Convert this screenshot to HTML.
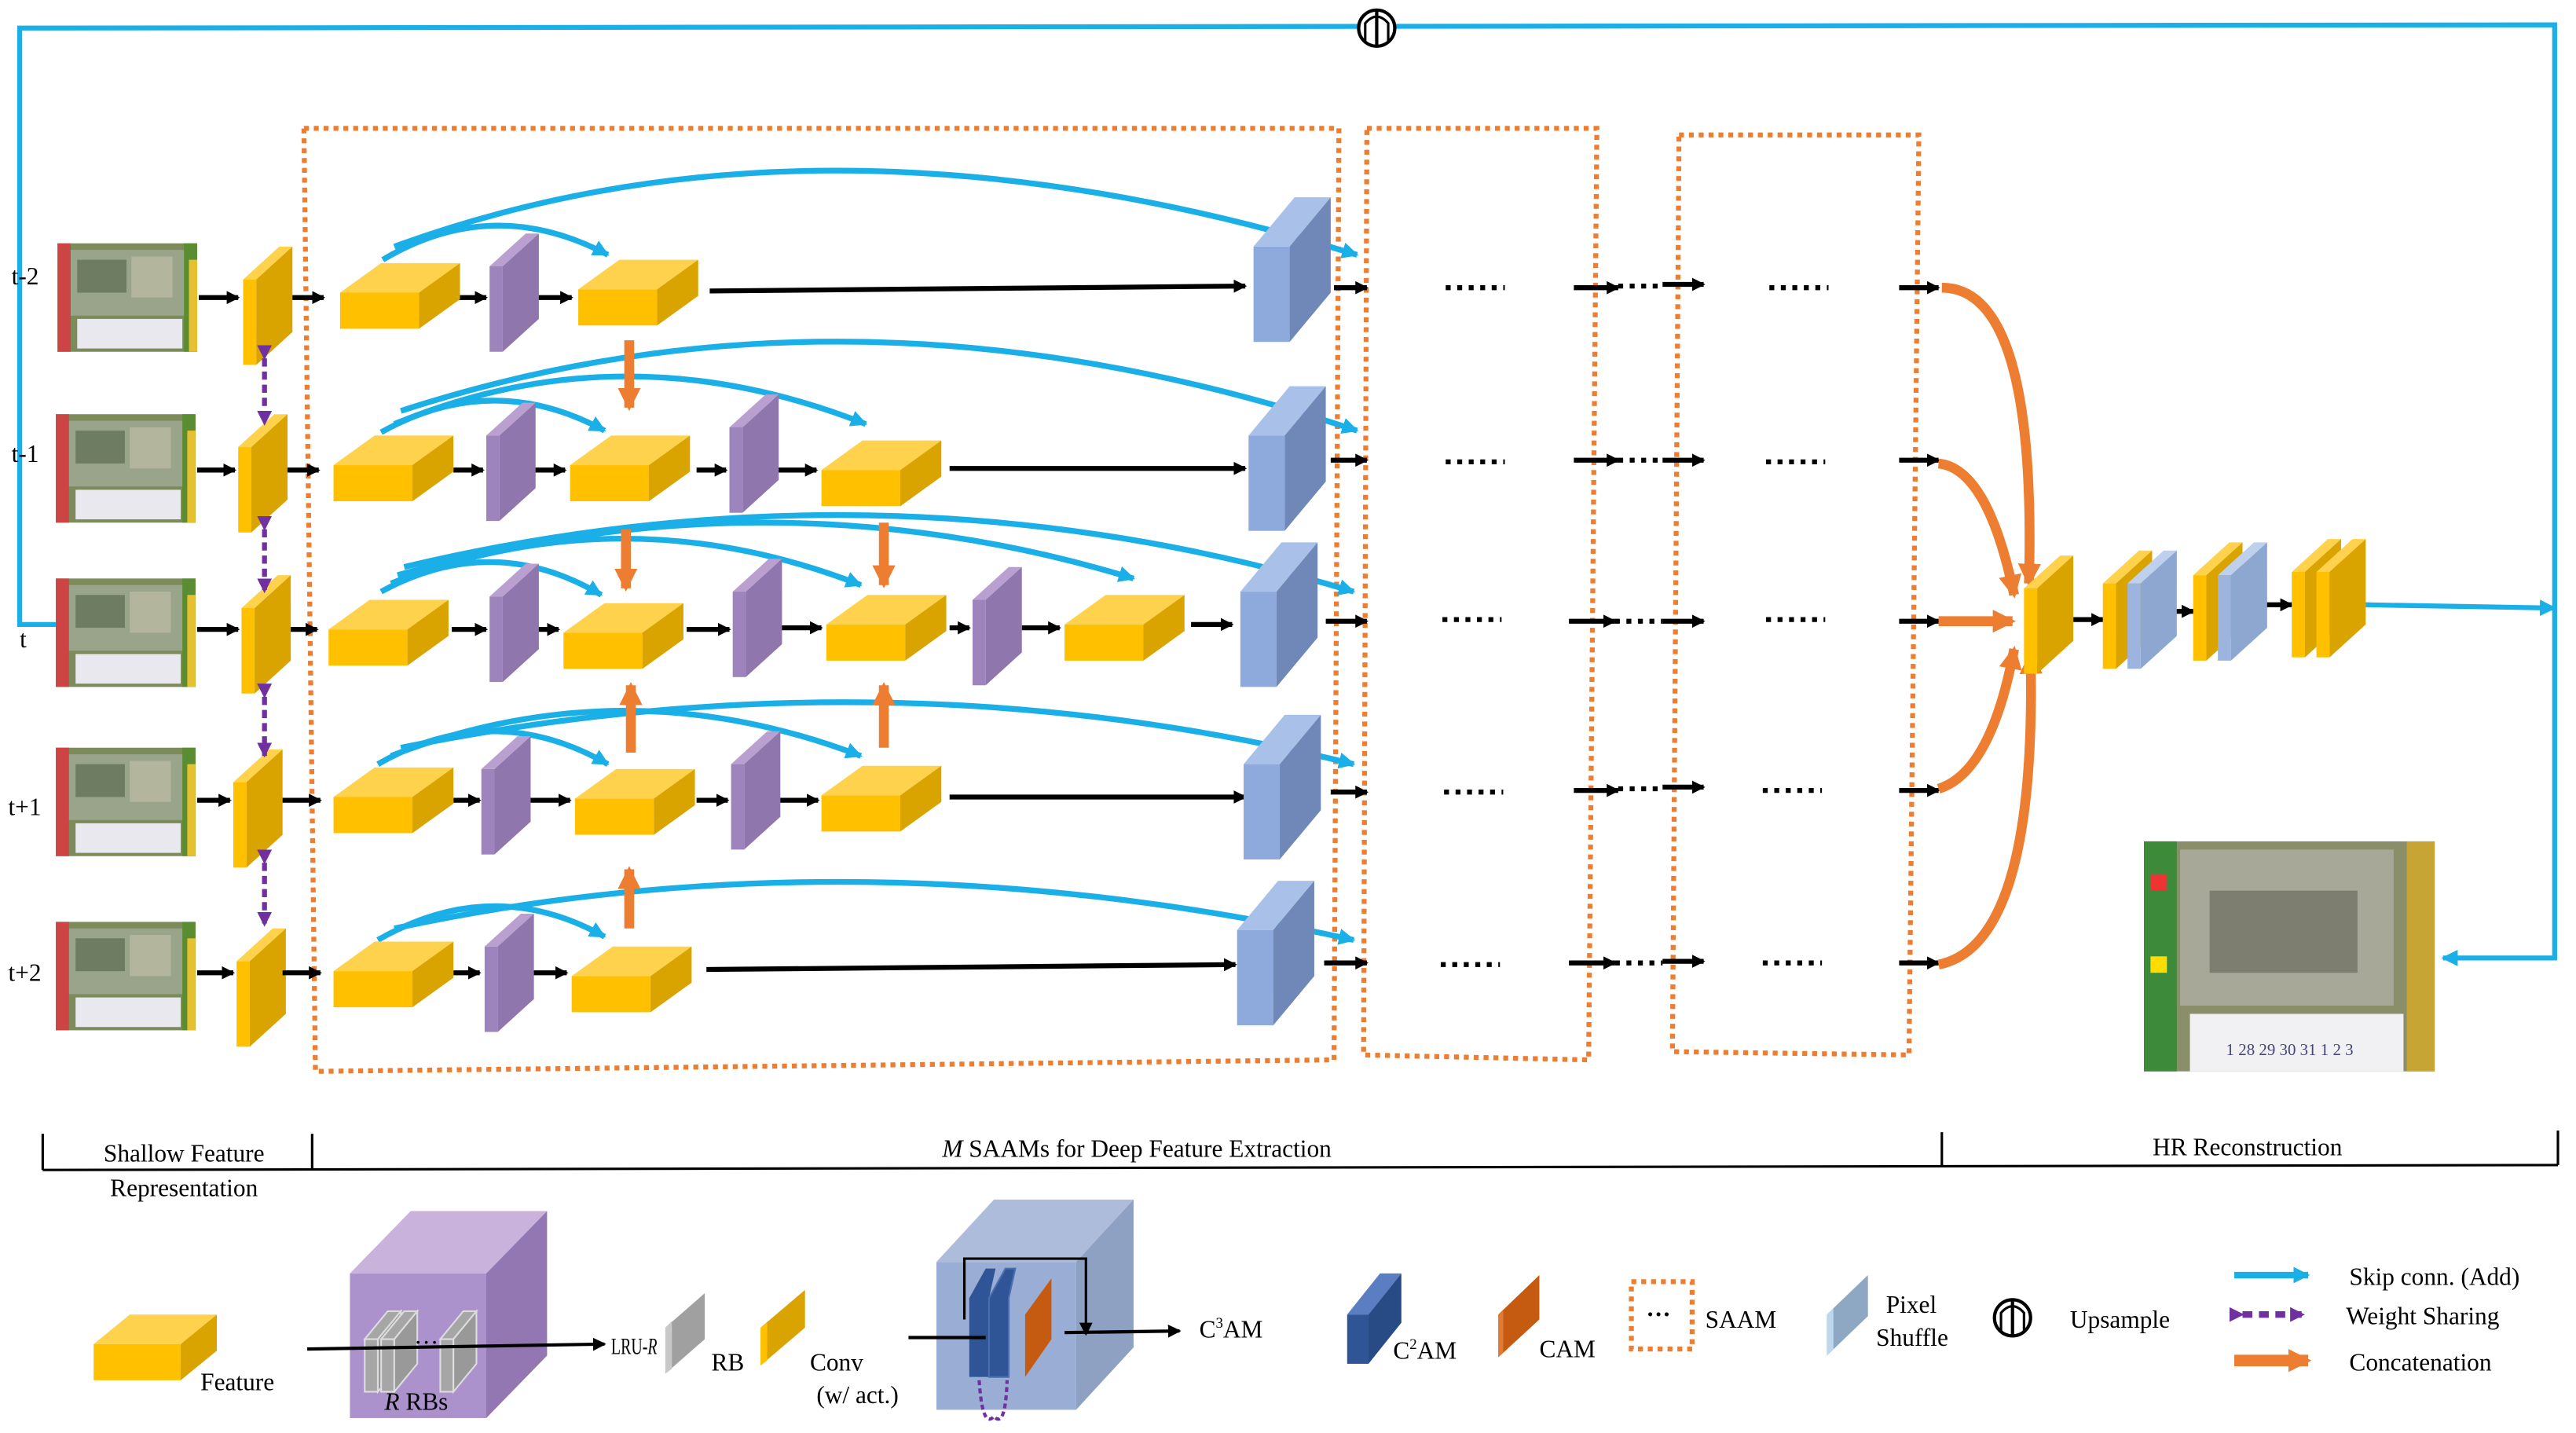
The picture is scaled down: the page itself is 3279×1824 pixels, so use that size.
<!DOCTYPE html>
<html><head><meta charset="utf-8"><style>
html,body{margin:0;padding:0;background:#fff;width:3279px;height:1824px;overflow:hidden}
svg{display:block}
text{font-family:"Liberation Serif",serif;font-size:15px;fill:#000}
</style></head><body>
<svg width="3279" height="1824" viewBox="0 0 1568 872" xmlns="http://www.w3.org/2000/svg">
<defs>
<marker id="ak" markerWidth="8" markerHeight="8" refX="7" refY="4" orient="auto" markerUnits="userSpaceOnUse"><path d="M0,0 L8,4 L0,8 z" fill="#000"/></marker>
<marker id="ab" markerWidth="10" markerHeight="10" refX="9" refY="5" orient="auto" markerUnits="userSpaceOnUse"><path d="M0,0 L10,5 L0,10 z" fill="#1AAFE6"/></marker>
<marker id="ao" markerWidth="14" markerHeight="14" refX="12" refY="7" orient="auto" markerUnits="userSpaceOnUse"><path d="M0,0 L14,7 L0,14 z" fill="#ED7D31"/></marker>
<marker id="ap" markerWidth="9" markerHeight="9" refX="8" refY="4.5" orient="auto" markerUnits="userSpaceOnUse"><path d="M0,0 L9,4.5 L0,9 z" fill="#7030A0"/></marker>
<g id="feat"><polygon points="0,18 25,0 73,0 48,18" fill="#FFD24D"/><rect x="0" y="18" width="48" height="22" fill="#FFC000"/><polygon points="48,18 73,0 73,22 48,40" fill="#D9A300"/></g>
<g id="pur"><polygon points="0,20 22,0 30,0 8,20" fill="#B9A0D0"/><rect x="0" y="20" width="8" height="52" fill="#9E84BC"/><polygon points="8,20 30,0 30,52 8,72" fill="#8F76AD"/></g>
<g id="ycv"><polygon points="0,20 22,0 30,0 8,20" fill="#FFD24D"/><rect x="0" y="20" width="8" height="52" fill="#FFC000"/><polygon points="8,20 30,0 30,52 8,72" fill="#D9A300"/></g>
<g id="blu"><polygon points="0,30 25,0 47,0 22,30" fill="#A9C0E8"/><rect x="0" y="30" width="22" height="58" fill="#8EAADC"/><polygon points="22,30 47,0 47,58 22,88" fill="#6F88B8"/></g>
<g id="frm"><rect x="0" y="0" width="85" height="66" fill="#7d8a5a"/><rect x="6" y="4" width="72" height="40" fill="#9aa48a"/><rect x="12" y="10" width="30" height="20" fill="#6e7c62"/><rect x="45" y="8" width="25" height="25" fill="#b3b59c"/><rect x="0" y="0" width="8" height="66" fill="#c44"/><rect x="77" y="0" width="8" height="66" fill="#5a8d32"/><rect x="12" y="46" width="64" height="18" fill="#e8e8ee"/><rect x="80" y="10" width="5" height="56" fill="#e6c030"/></g>
</defs>

<polyline points="35,380 12,380 12,17 1555,15 1555,583 1487,583" fill="none" stroke="#1AAFE6" stroke-width="3" marker-end="url(#ab)"/>
<circle cx="838" cy="17" r="11" fill="#fff" stroke="#000" stroke-width="2"/>
<line x1="838" y1="6" x2="838" y2="28" stroke="#000" stroke-width="2"/>
<path d="M831,26 L831,14 Q838,6 845,14 L845,26" fill="none" stroke="#000" stroke-width="1.5"/>

<g fill="none" stroke="#ED7D31" stroke-width="3" stroke-dasharray="3,3">
<polygon points="185,78 815,78 812,645 192,652"/>
<polygon points="832,78 972,78 967,645 830,642"/>
<polygon points="1022,82 1168,82 1162,642 1018,640"/>
</g>

<text x="7" y="173">t-2</text><text x="7" y="281">t-1</text><text x="12" y="394">t</text><text x="5" y="496">t+1</text><text x="5" y="597">t+2</text>

<use href="#frm" x="35" y="148"/><use href="#frm" x="34" y="252"/><use href="#frm" x="34" y="352"/><use href="#frm" x="34" y="455"/><use href="#frm" x="34" y="561"/>

<use href="#ycv" x="148" y="150"/><use href="#ycv" x="145" y="252"/><use href="#ycv" x="147" y="350"/><use href="#ycv" x="142" y="456"/><use href="#ycv" x="144" y="565"/>
<g stroke="#7030A0" stroke-width="3" stroke-dasharray="5,3" marker-end="url(#ap)" marker-start="url(#ap)">
<line x1="161" y1="218" x2="161" y2="258"/><line x1="161" y1="322" x2="161" y2="360"/><line x1="161" y1="424" x2="161" y2="460"/><line x1="161" y1="525" x2="161" y2="563"/>
</g>

<g stroke="#000" stroke-width="3" marker-end="url(#ak)">
<line x1="121" y1="181" x2="145" y2="181"/><line x1="178" y1="181" x2="197" y2="181"/><line x1="278" y1="181" x2="296" y2="181"/><line x1="326" y1="181" x2="348" y2="181"/><line x1="432" y1="177" x2="758" y2="174"/><line x1="812" y1="175" x2="832" y2="175"/>
<line x1="120" y1="286" x2="143" y2="286"/><line x1="175" y1="286" x2="194" y2="286"/><line x1="276" y1="286" x2="294" y2="286"/><line x1="324" y1="286" x2="344" y2="286"/><line x1="424" y1="286" x2="442" y2="286"/><line x1="472" y1="286" x2="497" y2="286"/><line x1="578" y1="285" x2="758" y2="285"/><line x1="810" y1="280" x2="832" y2="280"/>
<line x1="120" y1="383" x2="145" y2="383"/><line x1="177" y1="383" x2="193" y2="383"/><line x1="275" y1="383" x2="296" y2="383"/><line x1="326" y1="383" x2="340" y2="383"/><line x1="418" y1="383" x2="444" y2="383"/><line x1="474" y1="382" x2="500" y2="382"/><line x1="578" y1="382" x2="590" y2="382"/><line x1="622" y1="382" x2="645" y2="382"/><line x1="725" y1="380" x2="750" y2="380"/><line x1="807" y1="378" x2="832" y2="378"/>
<line x1="120" y1="487" x2="140" y2="487"/><line x1="172" y1="487" x2="195" y2="487"/><line x1="276" y1="487" x2="292" y2="487"/><line x1="322" y1="487" x2="347" y2="487"/><line x1="424" y1="487" x2="443" y2="487"/><line x1="474" y1="487" x2="498" y2="487"/><line x1="578" y1="485" x2="758" y2="485"/><line x1="810" y1="482" x2="832" y2="482"/>
<line x1="120" y1="592" x2="142" y2="592"/><line x1="172" y1="592" x2="195" y2="592"/><line x1="276" y1="592" x2="292" y2="592"/><line x1="324" y1="592" x2="345" y2="592"/><line x1="430" y1="590" x2="752" y2="587"/><line x1="806" y1="586" x2="832" y2="586"/>
<line x1="958" y1="175" x2="985" y2="175"/><line x1="1012" y1="173" x2="1037" y2="173"/><line x1="1156" y1="175" x2="1180" y2="175"/>
<line x1="958" y1="280" x2="985" y2="280"/><line x1="1012" y1="280" x2="1037" y2="280"/><line x1="1156" y1="280" x2="1180" y2="280"/>
<line x1="955" y1="378" x2="983" y2="378"/><line x1="1012" y1="378" x2="1037" y2="378"/><line x1="1156" y1="378" x2="1180" y2="378"/>
<line x1="958" y1="481" x2="985" y2="481"/><line x1="1012" y1="479" x2="1037" y2="479"/><line x1="1156" y1="481" x2="1180" y2="481"/>
<line x1="955" y1="586" x2="983" y2="586"/><line x1="1012" y1="585" x2="1037" y2="585"/><line x1="1156" y1="586" x2="1180" y2="586"/>
<line x1="1262" y1="377" x2="1280" y2="377"/><line x1="1320" y1="372" x2="1335" y2="372"/><line x1="1375" y1="368" x2="1395" y2="368"/>
</g>
<g stroke="#000" stroke-width="3" stroke-dasharray="3,4">
<line x1="880" y1="175" x2="916" y2="175"/><line x1="985" y1="174" x2="1012" y2="174"/><line x1="1077" y1="175" x2="1113" y2="175"/>
<line x1="880" y1="281" x2="916" y2="281"/><line x1="985" y1="280" x2="1012" y2="280"/><line x1="1075" y1="281" x2="1111" y2="281"/>
<line x1="878" y1="377" x2="914" y2="377"/><line x1="983" y1="378" x2="1012" y2="378"/><line x1="1075" y1="377" x2="1111" y2="377"/>
<line x1="879" y1="482" x2="915" y2="482"/><line x1="985" y1="480" x2="1012" y2="480"/><line x1="1073" y1="481" x2="1109" y2="481"/>
<line x1="877" y1="587" x2="913" y2="587"/><line x1="983" y1="586" x2="1012" y2="586"/><line x1="1073" y1="586" x2="1109" y2="586"/>
</g>

<g fill="none" stroke="#1AAFE6" stroke-width="3.5" marker-end="url(#ab)">
<path d="M233,158 Q300,118 370,155"/><path d="M240,150 Q500,55 826,155"/>
<path d="M232,263 Q300,225 368,262"/><path d="M240,258 Q380,200 527,258"/><path d="M244,250 Q520,160 826,262"/>
<path d="M232,360 Q300,323 366,362"/><path d="M238,355 Q380,300 524,356"/><path d="M242,350 Q470,285 690,352"/><path d="M246,345 Q540,275 824,360"/>
<path d="M230,465 Q300,425 370,465"/><path d="M238,460 Q380,405 524,460"/><path d="M244,455 Q540,395 824,465"/>
<path d="M230,572 Q300,532 368,570"/><path d="M240,565 Q520,505 824,572"/>
</g>

<g stroke="#ED7D31" stroke-width="6" marker-end="url(#ao)" fill="none">
<line x1="383" y1="207" x2="383" y2="248"/><line x1="381" y1="322" x2="381" y2="358"/><line x1="538" y1="318" x2="538" y2="356"/>
<line x1="384" y1="458" x2="384" y2="417"/><line x1="538" y1="455" x2="538" y2="417"/><line x1="383" y1="565" x2="383" y2="529"/>
<path d="M1182,175 Q1240,175 1235,355"/><path d="M1180,282 Q1210,285 1226,362"/><line x1="1180" y1="378" x2="1225" y2="378"/><path d="M1180,480 Q1212,470 1226,395"/><path d="M1180,587 Q1240,575 1236,398"/>
</g>

<use href="#feat" x="207" y="160"/><use href="#pur" x="298" y="142"/><use href="#feat" x="352" y="158"/><use href="#blu" x="763" y="120"/>
<use href="#feat" x="203" y="265"/><use href="#pur" x="296" y="245"/><use href="#feat" x="347" y="265"/><use href="#pur" x="444" y="240"/><use href="#feat" x="500" y="268"/><use href="#blu" x="760" y="235"/>
<use href="#feat" x="200" y="365"/><use href="#pur" x="298" y="343"/><use href="#feat" x="343" y="367"/><use href="#pur" x="446" y="340"/><use href="#feat" x="503" y="362"/><use href="#pur" x="592" y="345"/><use href="#feat" x="648" y="362"/><use href="#blu" x="755" y="330"/>
<use href="#feat" x="203" y="467"/><use href="#pur" x="293" y="448"/><use href="#feat" x="350" y="468"/><use href="#pur" x="445" y="445"/><use href="#feat" x="500" y="466"/><use href="#blu" x="757" y="435"/>
<use href="#feat" x="203" y="573"/><use href="#pur" x="295" y="556"/><use href="#feat" x="348" y="576"/><use href="#blu" x="753" y="536"/>

<use href="#ycv" x="1232" y="338"/>
<use href="#ycv" x="1280" y="335"/><g transform="translate(1295,335)"><polygon points="0,20 22,0 30,0 8,20" fill="#BDD0EE"/><rect x="0" y="20" width="8" height="52" fill="#9DB5DE"/><polygon points="8,20 30,0 30,52 8,72" fill="#8EA7D0"/></g>
<use href="#ycv" x="1335" y="330"/><g transform="translate(1350,330)"><polygon points="0,20 22,0 30,0 8,20" fill="#BDD0EE"/><rect x="0" y="20" width="8" height="52" fill="#9DB5DE"/><polygon points="8,20 30,0 30,52 8,72" fill="#8EA7D0"/></g>
<use href="#ycv" x="1395" y="328"/><use href="#ycv" x="1410" y="328"/>
<line x1="1440" y1="368" x2="1555" y2="370" stroke="#1AAFE6" stroke-width="3" marker-end="url(#ab)"/>

<g transform="translate(1305,512)">
<rect width="177" height="140" fill="#8a8f6a"/><rect x="22" y="5" width="130" height="95" fill="#a7a898"/><rect x="40" y="30" width="90" height="50" fill="#7d7d70"/><rect width="20" height="140" fill="#3c8a3a"/><rect x="4" y="20" width="10" height="10" fill="#e33"/><rect x="4" y="70" width="10" height="10" fill="#fd0"/><rect x="160" width="17" height="140" fill="#c6a535"/><rect x="28" y="105" width="130" height="35" fill="#f1f1f4"/>
<text x="50" y="130" style="font-size:10px;fill:#447">1  28 29 30 31  1  2  3</text>
</g>

<g stroke="#000" stroke-width="1.5" fill="none">
<line x1="26" y1="712" x2="1557" y2="709"/>
<line x1="26" y1="690" x2="26" y2="712"/><line x1="190" y1="690" x2="190" y2="712"/><line x1="1182" y1="689" x2="1182" y2="710"/><line x1="1557" y1="688" x2="1557" y2="709"/>
</g>
<text x="112" y="707" text-anchor="middle">Shallow Feature</text>
<text x="112" y="728" text-anchor="middle">Representation</text>
<text x="692" y="704" text-anchor="middle"><tspan font-style="italic">M</tspan> SAAMs for Deep Feature Extraction</text>
<text x="1368" y="703" text-anchor="middle">HR Reconstruction</text>

<g transform="translate(57,800)"><polygon points="0,18 22,0 75,0 53,18" fill="#FFD24D"/><rect x="0" y="18" width="53" height="22" fill="#FFC000"/><polygon points="53,18 75,0 75,22 53,40" fill="#D9A300"/></g>
<text x="122" y="846">Feature</text>
<polygon points="213,775 250,737 333,737 296,775" fill="#C9B3DD"/><rect x="213" y="775" width="83" height="88" fill="#AC92CC"/><polygon points="296,775 333,737 333,825 296,863" fill="#9277B2"/>
<g fill="#A6A6A6" stroke="#ddd"><polygon points="222,815 236,798 244,798 230,815"/><rect x="222" y="815" width="8" height="32"/><polygon points="230,815 244,798 244,830 230,847" fill="#999"/>
<polygon points="232,815 246,798 254,798 240,815"/><rect x="232" y="815" width="8" height="32"/><polygon points="240,815 254,798 254,830 240,847" fill="#999"/>
<polygon points="268,815 282,798 290,798 276,815"/><rect x="268" y="815" width="8" height="32"/><polygon points="276,815 290,798 290,830 276,847" fill="#999"/></g>
<text x="252" y="822">···</text>
<line x1="187" y1="821" x2="368" y2="818" stroke="#000" stroke-width="2" marker-end="url(#ak)"/>
<text x="234" y="858"><tspan font-style="italic">R</tspan> RBs</text>
<polygon points="405,808 429,787 429,815 405,836" fill="#A0A0A0"/><polygon points="405,808 409,804 409,833 405,836" fill="#C8C8C8"/>
<text x="372" y="824" style="font-size:14px" textLength="28" lengthAdjust="spacingAndGlyphs">LRU-<tspan font-style="italic">R</tspan></text>
<text x="433" y="834">RB</text>
<polygon points="463,808 490,785 490,808 463,831" fill="#D9A300"/><polygon points="463,808 467,805 467,828 463,831" fill="#FFC000"/>
<text x="493" y="834">Conv</text><text x="497" y="854">(w/ act.)</text>
<polygon points="570,768 605,730 690,730 655,768" fill="#ADBCDA"/><rect x="570" y="768" width="85" height="90" fill="#9AADD4"/><polygon points="655,768 690,730 690,820 655,858" fill="#8FA1C2"/>
<polygon points="590,838 590,790 600,772 606,772 602,790 602,838" fill="#2F5597"/><polygon points="602,838 602,790 612,772 618,772 614,790 614,838" fill="#2F5597" stroke="#4a6fb0"/><polygon points="624,838 624,800 640,778 640,815" fill="#C55A11"/>
<polyline points="553,814 600,814" stroke="#000" stroke-width="2" fill="none"/>
<polyline points="587,803 587,766 661,766 661,812" stroke="#000" stroke-width="1.5" fill="none" marker-end="url(#ak)"/>
<line x1="648" y1="811" x2="718" y2="810" stroke="#000" stroke-width="2" marker-end="url(#ak)"/>
<path d="M596,840 Q598,870 605,862 Q612,870 613,840" fill="none" stroke="#7030A0" stroke-width="2" stroke-dasharray="3,2"/>
<text x="730" y="814">C<tspan style="font-size:9px" dy="-6">3</tspan><tspan dy="6">AM</tspan></text>
<polygon points="820,800 840,775 853,775 833,800" fill="#5B7DC2"/><rect x="820" y="800" width="13" height="30" fill="#2F5597"/><polygon points="833,800 853,775 853,805 833,830" fill="#284A85"/>
<text x="848" y="827">C<tspan style="font-size:9px" dy="-6">2</tspan><tspan dy="6">AM</tspan></text>
<polygon points="912,826 912,800 937,776 937,803" fill="#C55A11"/><polygon points="912,826 912,800 915,797 915,823" fill="#E07A35"/>
<text x="937" y="826">CAM</text>
<rect x="993" y="780" width="37" height="41" fill="none" stroke="#ED7D31" stroke-width="3" stroke-dasharray="3,3"/>
<text x="1002" y="805" style="font-weight:bold">···</text>
<text x="1038" y="808">SAAM</text>
<polygon points="1112,825 1112,800 1137,776 1137,801" fill="#8EA7C2"/><polygon points="1112,825 1112,800 1116,796 1116,821" fill="#BDD7EE"/>
<text x="1148" y="799">Pixel</text><text x="1142" y="819">Shuffle</text>
<circle cx="1225" cy="802" r="11" fill="#fff" stroke="#000" stroke-width="2"/>
<line x1="1225" y1="791" x2="1225" y2="813" stroke="#000" stroke-width="2"/>
<path d="M1218,811 L1218,799 Q1225,791 1232,799 L1232,811" fill="none" stroke="#000" stroke-width="1.5"/>
<text x="1260" y="808">Upsample</text>
<line x1="1360" y1="776" x2="1405" y2="776" stroke="#1AAFE6" stroke-width="4" marker-end="url(#ab)"/>
<line x1="1365" y1="800" x2="1402" y2="800" stroke="#7030A0" stroke-width="4" stroke-dasharray="6,4" marker-end="url(#ap)" marker-start="url(#ap)"/>
<line x1="1360" y1="828" x2="1405" y2="828" stroke="#ED7D31" stroke-width="7" marker-end="url(#ao)"/>
<text x="1430" y="782">Skip conn. (Add)</text><text x="1428" y="806">Weight Sharing</text><text x="1430" y="834">Concatenation</text>
</svg>
</body></html>
